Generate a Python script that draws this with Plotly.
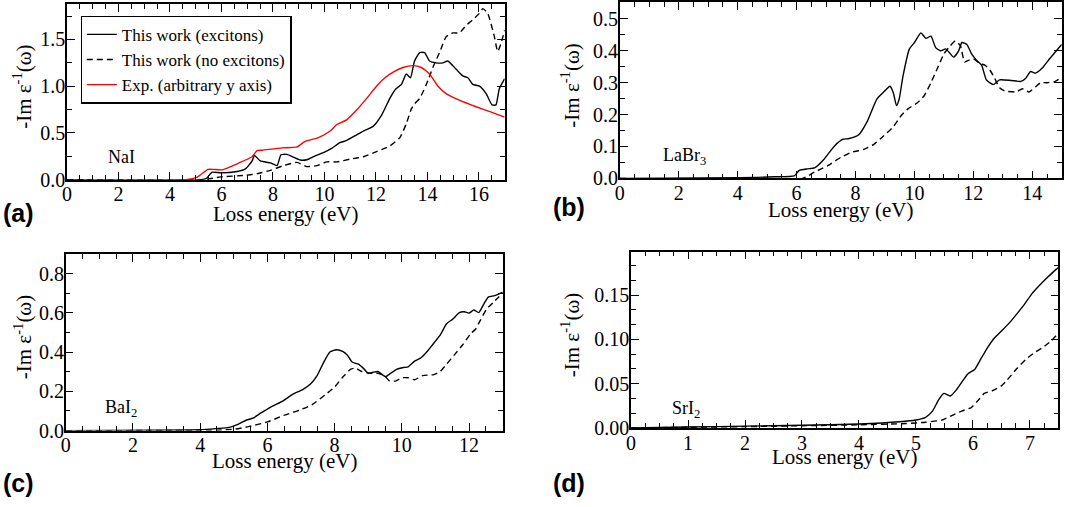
import plotly.graph_objects as go

# (a) NaI
nai_x_exc = [0, 5.2, 5.4, 5.64, 5.97, 6.61, 6.93, 7.19, 7.28, 7.51, 7.9, 8.16, 8.31, 8.54, 8.8, 9.06,
             9.32, 9.64, 9.96, 10.28, 10.6, 10.86, 11.25, 11.51, 11.89, 12.22, 12.54, 12.77, 12.99,
             13.18, 13.34, 13.5, 13.7, 13.89, 14.08, 14.34, 14.6, 14.79, 15.12, 15.37, 15.57, 15.76,
             16.02, 16.28, 16.51, 16.66, 16.79, 17.0]
nai_y_exc = [0, 0, 0.01, 0.08, 0.073, 0.087, 0.115, 0.2, 0.26, 0.2, 0.18, 0.15, 0.266, 0.27, 0.24, 0.21,
             0.213, 0.255, 0.29, 0.335, 0.395, 0.42, 0.48, 0.52, 0.57, 0.69, 0.87, 0.97, 1.02,
             1.13, 1.09, 1.27, 1.36, 1.36, 1.27, 1.25, 1.25, 1.27, 1.18, 1.11, 1.09, 1.02,
             1.0, 0.92, 0.8, 0.8, 0.97, 1.08]
nai_x_noexc = [0, 5.3, 5.97, 6.87, 7.38, 7.9, 8.41, 8.93, 9.32, 9.7, 10.09, 10.48, 11.0, 11.51, 12.02,
               12.54, 12.93, 13.18, 13.38, 13.5, 13.7, 13.96, 14.21, 14.47, 14.73, 14.99, 15.24, 15.5,
               15.76, 16.02, 16.15, 16.34, 16.6, 16.73, 16.86, 17.0]
nai_y_noexc = [0, 0, 0.03, 0.045, 0.063, 0.1, 0.15, 0.185, 0.14, 0.15, 0.19, 0.19, 0.22, 0.245, 0.3,
               0.36, 0.45, 0.6, 0.76, 0.81, 0.87, 1.02, 1.2, 1.36, 1.53, 1.57, 1.57, 1.65,
               1.71, 1.78, 1.83, 1.78, 1.53, 1.37, 1.46, 1.6]
nai_x_exp = [4.2, 4.61, 5.06, 5.48, 5.7, 6.03, 6.61, 7.19, 7.38, 7.58, 8.35, 8.93, 9.25, 9.77, 10.22,
             10.48, 10.86, 11.25, 11.64, 12.02, 12.35, 12.67, 13.05, 13.44, 13.76, 14.08, 14.41,
             14.73, 15.24, 15.89, 16.4, 17.0]
nai_y_exp = [0, 0, 0.028, 0.11, 0.11, 0.105, 0.17, 0.245, 0.31, 0.315, 0.34, 0.35, 0.41, 0.45, 0.52,
             0.59, 0.64, 0.745, 0.87, 1.0, 1.09, 1.15, 1.2, 1.22, 1.2, 1.13, 1.0,
             0.92, 0.85, 0.78, 0.73, 0.67]

# (b) LaBr3
labr_x_exc = [0, 1.5, 4.1, 5.25, 5.92, 6.09, 6.37, 6.61, 6.94, 7.28, 7.56, 7.78, 8.11, 8.39, 8.72, 8.94,
              9.17, 9.28, 9.39, 9.48, 9.61, 9.83, 10.0, 10.22, 10.39, 10.56, 10.72, 10.89, 11.06,
              11.17, 11.33, 11.5, 11.61, 11.78, 11.94, 12.11, 12.28, 12.44, 12.67, 12.89, 13.28,
              13.61, 13.78, 13.94, 14.11, 14.33, 14.56, 14.78, 15.0]
labr_y_exc = [0, 0.001, 0.002, 0.005, 0.008, 0.025, 0.03, 0.033, 0.061, 0.101, 0.122, 0.125, 0.137,
              0.177, 0.248, 0.269, 0.289, 0.269, 0.228, 0.248, 0.32, 0.406, 0.426, 0.456, 0.439,
              0.446, 0.41, 0.4, 0.406, 0.396, 0.38, 0.4, 0.426, 0.42, 0.39, 0.37, 0.355, 0.309,
              0.294, 0.309, 0.307, 0.304, 0.314, 0.335, 0.33, 0.345, 0.372, 0.396, 0.42]
labr_x_noexc = [0, 6.2, 6.61, 7.06, 7.5, 7.83, 8.28, 8.61, 8.94, 9.28, 9.56, 9.78, 10.11, 10.33, 10.56,
                10.78, 11.0, 11.22, 11.39, 11.56, 11.7, 11.83, 12.0, 12.22, 12.39, 12.56, 12.72,
                12.89, 13.06, 13.44, 13.67, 13.89, 14.11, 14.28, 14.5, 14.78, 15.0]
labr_y_noexc = [0, 0, 0.02, 0.04, 0.066, 0.081, 0.091, 0.106, 0.132, 0.162, 0.198, 0.218, 0.238,
                0.259, 0.3, 0.345, 0.39, 0.416, 0.431, 0.416, 0.365, 0.37, 0.375, 0.36, 0.355,
                0.34, 0.314, 0.284, 0.274, 0.271, 0.281, 0.271, 0.287, 0.3, 0.3, 0.304, 0.317]

# (c) BaI2
bai_x_exc = [0, 4.0, 4.48, 4.86, 5.14, 5.38, 5.57, 5.81, 6.1, 6.48, 6.76, 7.05, 7.29, 7.48, 7.67, 7.86,
             8.05, 8.24, 8.38, 8.52, 8.71, 8.88, 9.0, 9.14, 9.29, 9.43, 9.52, 9.67, 9.86, 10.05,
             10.19, 10.38, 10.57, 10.76, 10.95, 11.14, 11.33, 11.52, 11.71, 11.86, 12.0, 12.14,
             12.29, 12.43, 12.57, 12.76, 13.0]
bai_y_exc = [0, 0.004, 0.01, 0.016, 0.033, 0.054, 0.063, 0.09, 0.12, 0.153, 0.186, 0.209, 0.239, 0.28,
             0.346, 0.4, 0.412, 0.404, 0.384, 0.349, 0.338, 0.313, 0.292, 0.297, 0.301, 0.283,
             0.275, 0.292, 0.313, 0.321, 0.325, 0.354, 0.371, 0.404, 0.445, 0.486, 0.544, 0.568,
             0.601, 0.605, 0.598, 0.614, 0.601, 0.642, 0.68, 0.687, 0.705]
bai_x_noexc = [0, 4.5, 5.05, 5.43, 6.0, 6.48, 6.95, 7.33, 7.71, 8.0, 8.24, 8.48, 8.62, 8.81, 9.05, 9.29,
               9.48, 9.62, 9.81, 10.0, 10.19, 10.38, 10.62, 10.95, 11.14, 11.33, 11.57, 11.81,
               12.05, 12.19, 12.33, 12.52, 12.71, 13.0]
bai_y_noexc = [0, 0.002, 0.008, 0.02, 0.044, 0.077, 0.104, 0.132, 0.181, 0.222, 0.272, 0.313, 0.318,
               0.301, 0.292, 0.292, 0.28, 0.255, 0.252, 0.269, 0.269, 0.259, 0.28, 0.285, 0.301,
               0.338, 0.387, 0.437, 0.494, 0.516, 0.56, 0.618, 0.651, 0.70]

# (d) SrI2
sri_x_exc = [0, 1, 2, 3, 4, 4.71, 5.0, 5.17, 5.29, 5.4, 5.49, 5.6, 5.71, 5.83, 5.91, 6.03, 6.14, 6.26,
             6.37, 6.51, 6.66, 6.8, 6.91, 7.03, 7.17, 7.31, 7.46, 7.5]
sri_y_exc = [0, 0.001, 0.002, 0.003, 0.0045, 0.007, 0.009, 0.012, 0.019, 0.032, 0.039, 0.036, 0.043,
             0.054, 0.061, 0.066, 0.078, 0.091, 0.101, 0.11, 0.12, 0.131, 0.14, 0.151, 0.161, 0.17,
             0.179, 0.181]
sri_x_noexc = [0, 1, 2, 3, 4, 4.83, 5.17, 5.46, 5.63, 5.8, 5.97, 6.09, 6.2, 6.34, 6.49, 6.6, 6.77,
               6.94, 7.06, 7.23, 7.37, 7.5]
sri_y_noexc = [0, 0.0008, 0.0015, 0.0025, 0.0035, 0.005, 0.0065, 0.009, 0.014, 0.019, 0.023, 0.031,
               0.039, 0.042, 0.047, 0.054, 0.067, 0.078, 0.084, 0.091, 0.098, 0.107]

serif = "Liberation Serif, Times New Roman, serif"
W, H = 1074, 507

fig = go.Figure()


def line(x, y, ax, name=None, dash="solid", color="black", legend=False):
    fig.add_trace(go.Scatter(
        x=x, y=y, mode="lines", name=name, showlegend=legend,
        xaxis="x" + ax, yaxis="y" + ax,
        line=dict(color=color, width=1.4, dash=dash, shape="spline", smoothing=0.5),
    ))


line(nai_x_exc, nai_y_exc, "", "This work (excitons)", legend=True)
line(nai_x_noexc, nai_y_noexc, "", "This work (no excitons)", dash="6px,4px", legend=True)
line(nai_x_exp, nai_y_exp, "", "Exp. (arbitrary y axis)", color="#ff0000", legend=True)
line(labr_x_exc, labr_y_exc, "2")
line(labr_x_noexc, labr_y_noexc, "2", dash="6px,4px")
line(bai_x_exc, bai_y_exc, "3")
line(bai_x_noexc, bai_y_noexc, "3", dash="6px,4px")
line(sri_x_exc, sri_y_exc, "4")
line(sri_x_noexc, sri_y_noexc, "4", dash="6px,4px")


def ax_style(dom, rng, dtick, mdtick, fmt, anchor):
    return dict(
        domain=dom, range=rng, anchor=anchor, tick0=0, dtick=dtick, tickformat=fmt,
        ticks="inside", ticklen=8, tickwidth=1.2, tickcolor="black",
        minor=dict(dtick=mdtick, ticks="inside", ticklen=5, tickwidth=1, tickcolor="black"),
        showline=True, linecolor="black", linewidth=1.5, mirror="allticks",
        showgrid=False, zeroline=False, fixedrange=True, ticklabelstandoff=-4,
        tickfont=dict(family=serif, size=20, color="black"),
    )


# pixel boxes (left, right, top, bottom) of the four panels
boxes = [(62.3, 502, 3, 183), (617.7, 1061.7, 1, 181.7), (61, 500, 259, 440), (629, 1058.3, 256.7, 437.3)]


def dx(b):
    return [b[0] / W, b[1] / W]


def dy(b):
    return [1 - b[3] / H, 1 - b[2] / H]


fig.update_layout(
    xaxis=ax_style(dx(boxes[0]), [0, 17], 2, 0.5, "d", "y"),
    yaxis=ax_style(dy(boxes[0]), [0, 1.88], 0.5, 0.25, ".1f", "x"),
    xaxis2=ax_style(dx(boxes[1]), [0, 15], 2, 0.5, "d", "y2"),
    yaxis2=ax_style(dy(boxes[1]), [0, 0.553], 0.1, 0.05, ".1f", "x2"),
    xaxis3=ax_style(dx(boxes[2]), [0, 13], 2, 0.5, "d", "y3"),
    yaxis3=ax_style(dy(boxes[2]), [0, 0.9], 0.2, 0.1, ".1f", "x3"),
    xaxis4=ax_style(dx(boxes[3]), [0, 7.5], 1, 0.25, "d", "y4"),
    yaxis4=ax_style(dy(boxes[3]), [0, 0.199], 0.05, 0.05 / 3, ".2f", "x4"),
)

ann = []
# axis titles
xt_off = [35, 32, 31, 30]
yt_x = [18, 568, 18, 569]
for i, b in enumerate(boxes):
    ann.append(dict(text="Loss energy (eV)", xref="paper", yref="paper",
                    x=(b[0] + b[1]) / 2 / W, y=1 - (b[3] + xt_off[i]) / H,
                    xanchor="center", yanchor="middle", showarrow=False,
                    font=dict(family=serif, size=21, color="black")))
    ann.append(dict(text="-Im ε<sup>-1</sup>(ω)", xref="paper", yref="paper",
                    x=yt_x[i] / W, y=1 - ((b[2] + b[3]) / 2 - 5) / H, textangle=-90,
                    xanchor="center", yanchor="middle", showarrow=False,
                    font=dict(family=serif, size=21, color="black")))

# material labels
mats = [("NaI", "", 2.1, 0.24), ("LaBr<sub>3</sub>", "2", 2.2, 0.068),
        ("BaI<sub>2</sub>", "3", 1.65, 0.112), ("SrI<sub>2</sub>", "4", 0.96, 0.021)]
for t, a, x, y in mats:
    ann.append(dict(text=t, xref="x" + a, yref="y" + a, x=x, y=y, showarrow=False,
                    xanchor="center", yanchor="middle",
                    font=dict(family=serif, size=18, color="black")))

# panel letters
letters = [("(a)", -4, 217), ("(b)", 549, 211), ("(c)", -4, 494), ("(d)", 549, 494)]
for t, px, py in letters:
    ann.append(dict(text="<b>" + t + "</b>", xref="paper", yref="paper",
                    x=px / W, y=1 - py / H, xanchor="left", yanchor="middle", showarrow=False,
                    font=dict(family="Liberation Sans, Arial, sans-serif", size=25, color="black")))

fig.update_layout(
    width=W, height=H,
    margin=dict(l=0, r=0, t=0, b=0),
    paper_bgcolor="white", plot_bgcolor="white",
    font=dict(family=serif, size=18, color="black"),
    annotations=ann,
    legend=dict(x=76 / W, y=1 - 15 / H, xanchor="left", yanchor="top",
                bgcolor="white", bordercolor="black", borderwidth=1.2,
                font=dict(family=serif, size=17, color="black"),
                tracegroupgap=0, itemwidth=30),
)

# the page body has a default 8px margin; drop it so the figure sits at the window corner
fig.write_html("out.html", config={"displayModeBar": False},
               post_script="document.body.style.margin='0px';")
